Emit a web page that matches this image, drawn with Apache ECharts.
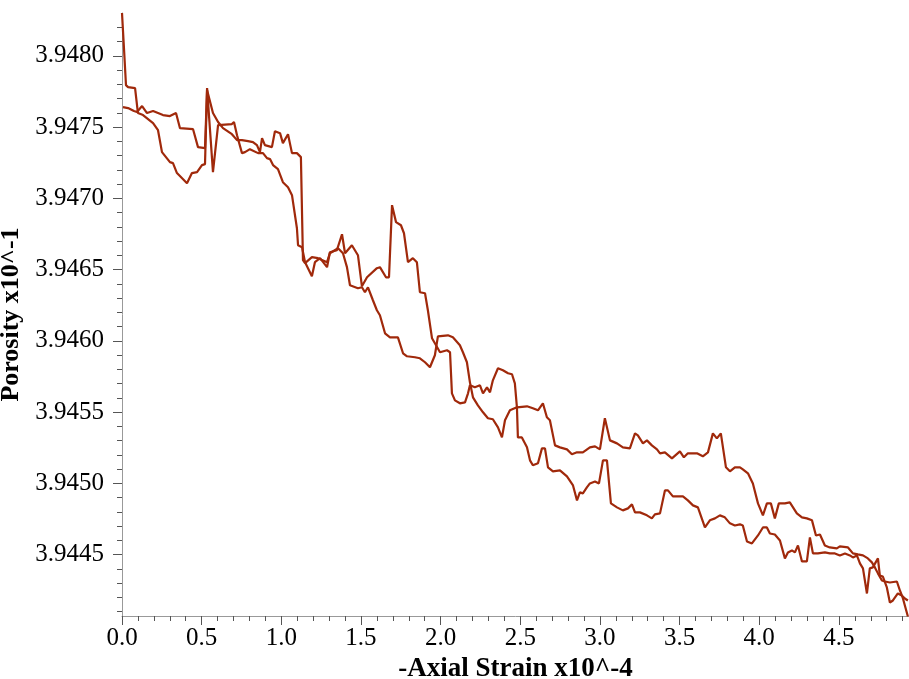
<!DOCTYPE html>
<html>
<head>
<meta charset="utf-8">
<script src="https://cdn.jsdelivr.net/npm/echarts@6/dist/echarts.min.js"></script>
<style>html,body{margin:0;padding:0;background:#fff}#c{width:909px;height:679px}</style>
</head>
<body>
<div id="c"></div>
<script>
// Curve A (starts at top-left)
const strainA = [0,0.013,0.025,0.038,0.082,0.100,0.132,0.195,0.226,0.251,0.301,0.320,0.345,0.408,0.439,0.471,0.502,0.521,0.534,0.571,0.603,0.690,0.703,0.722,0.753,0.772,0.803,0.854,0.885,0.910,0.929,0.948,0.979,1.010,1.042,1.067,1.098,1.105,1.130,1.149,1.192,1.211,1.243,1.287,1.305,1.349,1.381,1.400,1.443,1.481,1.506,1.538,1.600,1.619,1.657,1.676,1.695,1.720,1.751,1.770,1.795,1.826,1.851,1.870,1.902,1.920,1.946,1.964,1.996,2.040,2.059,2.071,2.090,2.121,2.153,2.172,2.184,2.215,2.247,2.266,2.291,2.310,2.328,2.360,2.391,2.423,2.448,2.466,2.479,2.485,2.510,2.542,2.561,2.579,2.611,2.636,2.655,2.674,2.705,2.749,2.793,2.831,2.856,2.874,2.893,2.918,2.937,2.969,2.994,3.019,3.044,3.069,3.107,3.144,3.176,3.201,3.220,3.251,3.295,3.326,3.345,3.377,3.408,3.427,3.458,3.521,3.552,3.584,3.615,3.659,3.690,3.722,3.753,3.784,3.816,3.847,3.879,3.897,3.923,3.954,3.992,4.023,4.048,4.067,4.098,4.130,4.161,4.180,4.205,4.224,4.243,4.268,4.299,4.318,4.337,4.368,4.412,4.443,4.475,4.506,4.538,4.569,4.588,4.613,4.632,4.651,4.676,4.694,4.713,4.745,4.757,4.776,4.801,4.820,4.839,4.870,4.895,4.914,4.933];
const porosityA = [3.948300,3.948040,3.947794,3.947780,3.947773,3.947598,3.947584,3.947528,3.947478,3.947324,3.947254,3.947247,3.947177,3.947106,3.947177,3.947184,3.947233,3.947240,3.947773,3.947184,3.947513,3.947521,3.947535,3.947443,3.947317,3.947324,3.947345,3.947317,3.947317,3.947282,3.947275,3.947233,3.947205,3.947113,3.947078,3.947022,3.946790,3.946671,3.946657,3.946552,3.946453,3.946552,3.946580,3.946517,3.946622,3.946636,3.946748,3.946615,3.946671,3.946601,3.946383,3.946446,3.946510,3.946517,3.946446,3.946446,3.946952,3.946833,3.946811,3.946755,3.946552,3.946580,3.946552,3.946341,3.946334,3.946215,3.946018,3.945983,3.945920,3.945934,3.945920,3.945632,3.945583,3.945562,3.945569,3.945632,3.945688,3.945674,3.945688,3.945632,3.945674,3.945639,3.945723,3.945808,3.945794,3.945773,3.945766,3.945702,3.945534,3.945323,3.945323,3.945253,3.945162,3.945127,3.945141,3.945246,3.945246,3.945113,3.945085,3.945092,3.945049,3.944986,3.944881,3.944937,3.944930,3.944972,3.945000,3.945014,3.945000,3.945162,3.945162,3.944860,3.944832,3.944811,3.944825,3.944853,3.944797,3.944797,3.944776,3.944755,3.944783,3.944790,3.944951,3.944951,3.944909,3.944909,3.944881,3.944846,3.944832,3.944691,3.944741,3.944755,3.944776,3.944762,3.944720,3.944705,3.944713,3.944705,3.944593,3.944579,3.944635,3.944691,3.944691,3.944649,3.944642,3.944600,3.944474,3.944516,3.944530,3.944516,3.944565,3.944453,3.944453,3.944621,3.944509,3.944509,3.944516,3.944509,3.944509,3.944495,3.944509,3.944495,3.944481,3.944495,3.944439,3.944404,3.944228,3.944404,3.944411,3.944474,3.944354,3.944347,3.944270,3.944165,3.944179,3.944228,3.944214,3.944193,3.944179];
// Curve B (starts lower at left)
const strainB = [0.006,0.038,0.075,0.094,0.126,0.157,0.195,0.257,0.301,0.339,0.364,0.446,0.477,0.521,0.534,0.571,0.603,0.634,0.690,0.722,0.753,0.791,0.822,0.847,0.866,0.879,0.897,0.941,0.960,0.992,1.010,1.042,1.067,1.098,1.123,1.136,1.149,1.192,1.230,1.287,1.305,1.356,1.387,1.412,1.431,1.481,1.506,1.525,1.544,1.575,1.600,1.619,1.651,1.682,1.732,1.764,1.789,1.839,1.870,1.902,1.933,1.964,1.983,2.046,2.077,2.121,2.140,2.165,2.184,2.203,2.234,2.266,2.297,2.328,2.360,2.385,2.404,2.435,2.479,2.542,2.579,2.611,2.642,2.667,2.686,2.718,2.749,2.793,2.824,2.856,2.893,2.937,2.969,3.000,3.031,3.063,3.107,3.144,3.188,3.220,3.238,3.270,3.295,3.326,3.358,3.377,3.408,3.452,3.502,3.527,3.552,3.609,3.646,3.678,3.709,3.734,3.759,3.791,3.816,3.847,3.879,3.897,3.929,3.960,3.992,4.023,4.048,4.073,4.098,4.123,4.161,4.192,4.236,4.268,4.299,4.331,4.356,4.381,4.412,4.443,4.487,4.506,4.557,4.588,4.619,4.651,4.682,4.707,4.726,4.745,4.770,4.789,4.820,4.864,4.883,4.902,4.933];
const porosityB = [3.947640,3.947633,3.947612,3.947605,3.947647,3.947598,3.947612,3.947584,3.947577,3.947598,3.947492,3.947485,3.947359,3.947352,3.947759,3.947598,3.947535,3.947492,3.947450,3.947408,3.947408,3.947401,3.947394,3.947373,3.947324,3.947422,3.947373,3.947359,3.947471,3.947457,3.947387,3.947450,3.947317,3.947317,3.947289,3.946566,3.946545,3.946587,3.946580,3.946552,3.946615,3.946650,3.946615,3.946517,3.946390,3.946369,3.946376,3.946341,3.946376,3.946285,3.946215,3.946180,3.946053,3.946025,3.946025,3.945913,3.945892,3.945885,3.945878,3.945850,3.945815,3.945899,3.946032,3.946039,3.946025,3.945969,3.945920,3.945850,3.945709,3.945604,3.945548,3.945499,3.945457,3.945450,3.945393,3.945323,3.945443,3.945513,3.945534,3.945541,3.945527,3.945513,3.945562,3.945464,3.945443,3.945267,3.945253,3.945239,3.945204,3.945218,3.945218,3.945253,3.945260,3.945239,3.945457,3.945302,3.945281,3.945253,3.945246,3.945351,3.945337,3.945281,3.945302,3.945267,3.945239,3.945211,3.945218,3.945176,3.945225,3.945183,3.945211,3.945211,3.945190,3.945218,3.945351,3.945316,3.945351,3.945113,3.945085,3.945113,3.945113,3.945099,3.945071,3.945000,3.944860,3.944776,3.944860,3.944860,3.944755,3.944860,3.944860,3.944867,3.944790,3.944762,3.944755,3.944741,3.944635,3.944642,3.944565,3.944551,3.944544,3.944558,3.944551,3.944509,3.944502,3.944495,3.944474,3.944446,3.944411,3.944369,3.944319,3.944312,3.944305,3.944312,3.944249,3.944193,3.944067];

// Tick labels
const xMajorTicks = [0.0,0.5,1.0,1.5,2.0,2.5,3.0,3.5,4.0,4.5];
const xMinorTicks = [0.1,0.2,0.3,0.4,0.6,0.7,0.8,0.9,1.1,1.2,1.3,1.4,1.6,1.7,1.8,1.9,2.1,2.2,2.3,2.4,2.6,2.7,2.8,2.9,3.1,3.2,3.3,3.4,3.6,3.7,3.8,3.9,4.1,4.2,4.3,4.4,4.6,4.7,4.8,4.9];
const yMajorTicks = [3.9445,3.9450,3.9455,3.9460,3.9465,3.9470,3.9475,3.9480];
const yMinorTicks = [3.9441,3.9442,3.9443,3.9444,3.9446,3.9447,3.9448,3.9449,3.9451,3.9452,3.9453,3.9454,3.9456,3.9457,3.9458,3.9459,3.9461,3.9462,3.9463,3.9464,3.9466,3.9467,3.9468,3.9469,3.9471,3.9472,3.9473,3.9474,3.9476,3.9477,3.9478,3.9479,3.9481,3.9482];

const X_MIN = 0, X_MAX = 4.94, Y_MIN = 3.94407, Y_MAX = 3.94830;
const FONT = 'Liberation Serif';
const LINE_COLOR = '#a0290b';
const AXIS_COLOR = '#999999';
const TICK_COLOR = '#555555';

const chart = echarts.init(document.getElementById('c'), null, {renderer: 'canvas'});

function xAxisCfg(main) {
  return {
    type: 'value', min: X_MIN, max: X_MAX, position: 'bottom', gridIndex: 0,
    name: main ? '-Axial Strain x10^-4' : '',
    nameLocation: 'middle', nameGap: 32,
    nameTextStyle: {fontFamily: FONT, fontWeight: 'bold', fontSize: 27, color: '#000'},
    axisLine: {show: main, onZero: false, lineStyle: {color: AXIS_COLOR, width: 1}},
    axisTick: {show: true, inside: false, length: main ? 9 : 5, customValues: main ? xMajorTicks : xMinorTicks,
               lineStyle: {color: TICK_COLOR, width: 1}},
    axisLabel: main ? {show: true, customValues: xMajorTicks, margin: 10, fontFamily: FONT, fontSize: 25, color: '#000',
               formatter: v => Number(v).toFixed(1)} : {show: false, customValues: xMinorTicks},
    splitLine: {show: false}
  };
}
function yAxisCfg(main) {
  return {
    type: 'value', min: Y_MIN, max: Y_MAX, position: 'left', gridIndex: 0,
    name: main ? 'Porosity x10^-1' : '',
    nameLocation: 'middle', nameGap: 88, nameRotate: 90,
    nameTextStyle: {fontFamily: FONT, fontWeight: 'bold', fontSize: 26, color: '#000'},
    axisLine: {show: main, onZero: false, lineStyle: {color: AXIS_COLOR, width: 1}},
    axisTick: {show: true, inside: false, length: main ? 9 : 5, customValues: main ? yMajorTicks : yMinorTicks,
               lineStyle: {color: TICK_COLOR, width: 1}},
    axisLabel: main ? {show: true, customValues: yMajorTicks, margin: 18, fontFamily: FONT, fontSize: 25, color: '#000',
               formatter: v => Number(v).toFixed(4)} : {show: false, customValues: yMinorTicks},
    splitLine: {show: false}
  };
}

const dataA = strainA.map((x, i) => [x, porosityA[i]]);
const dataB = strainB.map((x, i) => [x, porosityB[i]]);

chart.setOption({
  animation: false,
  backgroundColor: '#ffffff',
  grid: {left: 122, right: 0, top: 13, bottom: 63, containLabel: false, outerBoundsMode: 'none'},
  xAxis: [xAxisCfg(true), xAxisCfg(false)],
  yAxis: [yAxisCfg(true), yAxisCfg(false)],
  series: [
    {type: 'line', name: 'A', data: dataA, xAxisIndex: 0, yAxisIndex: 0, showSymbol: false, symbol: 'none',
     lineStyle: {color: LINE_COLOR, width: 2.2}, clip: true},
    {type: 'line', name: 'B', data: dataB, xAxisIndex: 0, yAxisIndex: 0, showSymbol: false, symbol: 'none',
     lineStyle: {color: LINE_COLOR, width: 2.2}, clip: true}
  ]
});
</script>
</body>
</html>
